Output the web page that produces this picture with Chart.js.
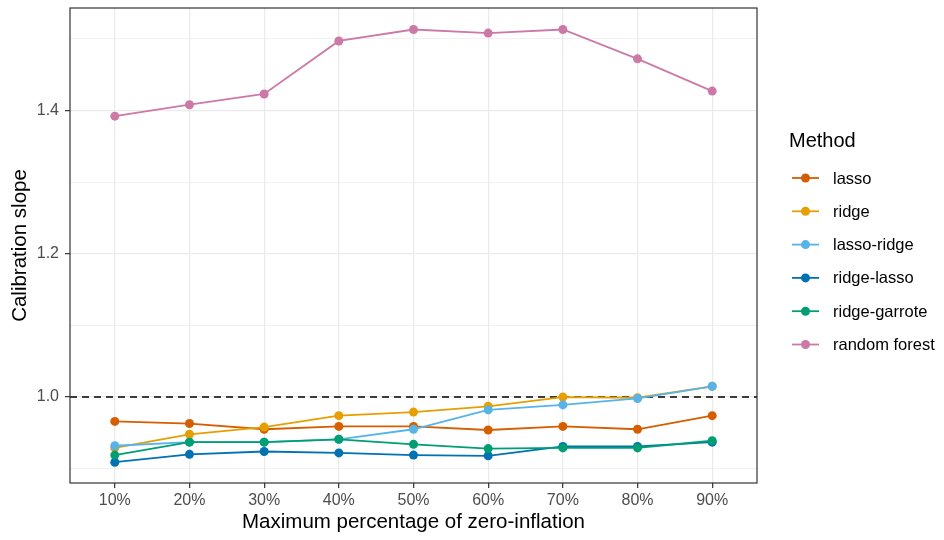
<!DOCTYPE html>
<html lang="en">
<head>
  <meta charset="UTF-8" />
  <title>Calibration slope</title>
  <script src="https://cdn.jsdelivr.net/npm/chart.js"></script>
  <style>
    html, body { margin: 0; padding: 0; background: #fff; }
    #wrap { width: 944px; height: 540px; }
  </style>
</head>
<body>
<div id="wrap"><canvas id="chart" width="944" height="540"></canvas></div>
<script>
  // data
  const categories = ['10%', '20%', '30%', '40%', '50%', '60%', '70%', '80%', '90%'];
  const methods = ['lasso', 'ridge', 'lasso-ridge', 'ridge-lasso', 'ridge-garrote', 'random forest'];
  const lasso = [0.966, 0.963, 0.955, 0.959, 0.959, 0.954, 0.959, 0.955, 0.974];
  const ridge = [0.929, 0.948, 0.958, 0.974, 0.979, 0.987, 1.000, 0.999, 1.015];
  const lassoRidge = [0.932, 0.937, 0.937, 0.941, 0.955, 0.982, 0.989, 0.998, 1.015];
  const ridgeLasso = [0.909, 0.920, 0.924, 0.922, 0.919, 0.918, 0.931, 0.931, 0.937];
  const ridgeGarrote = [0.919, 0.937, 0.937, 0.941, 0.934, 0.928, 0.929, 0.929, 0.939];
  const randomForest = [1.392, 1.408, 1.423, 1.497, 1.513, 1.508, 1.513, 1.472, 1.427];
  const yTicks = [0.9, 1.0, 1.1, 1.2, 1.3, 1.4, 1.5];
  const yLabelled = [1.0, 1.2, 1.4];
  const refLine = 1.0;

  const series = [lasso, ridge, lassoRidge, ridgeLasso, ridgeGarrote, randomForest];
  const colors = ['#D55E00', '#E69F00', '#56B4E9', '#0072B2', '#009E73', '#CC79A7'];

  const FONT = "'Liberation Sans', Arial, sans-serif";
  const isMajor = v => yLabelled.some(t => Math.abs(t - v) < 1e-6);

  const datasets = series.map((vals, i) => ({
    label: methods[i],
    data: vals.map((v, j) => ({ x: j + 1, y: v })),
    borderColor: colors[i],
    backgroundColor: colors[i],
    borderWidth: 1.8,
    pointRadius: 4.5,
    pointHoverRadius: 4.5,
    pointBorderWidth: 0,
    tension: 0,
    order: methods.length - i
  }));

  // dashed line at 1.0, panel border and legend
  const panelPlugin = {
    id: 'panel',
    beforeDatasetsDraw(chart) {
      const { ctx, chartArea: a, scales } = chart;
      const y = scales.y.getPixelForValue(refLine);
      ctx.save();
      ctx.strokeStyle = '#000';
      ctx.lineWidth = 1.6;
      ctx.setLineDash([7, 5]);
      ctx.beginPath();
      ctx.moveTo(a.left, y);
      ctx.lineTo(a.right, y);
      ctx.stroke();
      ctx.restore();
    },
    afterDraw(chart) {
      const { ctx, chartArea: a } = chart;
      ctx.save();
      ctx.strokeStyle = '#333333';
      ctx.lineWidth = 1.2;
      ctx.strokeRect(a.left, a.top, a.right - a.left, a.bottom - a.top);

      ctx.fillStyle = '#000';
      ctx.font = '20px ' + FONT;
      ctx.textBaseline = 'middle';
      ctx.textAlign = 'left';
      ctx.fillText('Method', 789, 141);
      chart.data.datasets.forEach((ds, i) => {
        const yy = 178 + i * 33.3;
        ctx.strokeStyle = ds.borderColor;
        ctx.lineWidth = 1.8;
        ctx.beginPath();
        ctx.moveTo(792, yy);
        ctx.lineTo(819, yy);
        ctx.stroke();
        ctx.fillStyle = ds.borderColor;
        ctx.beginPath();
        ctx.arc(805.5, yy, 4.5, 0, Math.PI * 2);
        ctx.fill();
        ctx.fillStyle = '#000';
        ctx.font = '16.5px ' + FONT;
        ctx.fillText(ds.label, 833, yy + 1);
      });
      ctx.restore();
    }
  };

  new Chart(document.getElementById('chart'), {
    type: 'line',
    data: { datasets },
    plugins: [panelPlugin],
    options: {
      responsive: false,
      animation: false,
      layout: { padding: { top: 8, right: 187, bottom: 0, left: 0 } },
      plugins: { legend: { display: false }, tooltip: { enabled: false } },
      scales: {
        x: {
          type: 'linear',
          min: 0.4,
          max: 9.6,
          afterBuildTicks: s => { s.ticks = categories.map((c, j) => ({ value: j + 1 })); },
          afterFit: s => { s.height = 57; s.paddingLeft = 0; s.paddingRight = 0; },
          ticks: {
            callback: (v) => categories[Math.round(v) - 1],
            color: '#4D4D4D',
            font: { family: FONT, size: 16 },
            padding: 3,
            maxRotation: 0
          },
          grid: { color: '#EBEBEB', lineWidth: 1.3, tickColor: '#333333', tickLength: 5, tickWidth: 1.2 },
          border: { display: false },
          title: {
            display: true,
            text: 'Maximum percentage of zero-inflation',
            color: '#000',
            font: { family: FONT, size: 20.5 },
            padding: { top: 0, bottom: 5 }
          }
        },
        y: {
          min: 0.88,
          max: 1.543,
          afterBuildTicks: s => { s.ticks = yTicks.map(v => ({ value: v })); },
          afterFit: s => { s.width = 70; s.paddingTop = 0; s.paddingBottom = 0; },
          ticks: {
            callback: v => isMajor(v) ? v.toFixed(1) : '',
            color: '#4D4D4D',
            font: { family: FONT, size: 16 },
            padding: 6
          },
          grid: {
            color: '#EBEBEB',
            lineWidth: ctx => isMajor(ctx.tick.value) ? 1.3 : 0.7,
            tickColor: ctx => isMajor(ctx.tick.value) ? '#333333' : 'rgba(0,0,0,0)',
            tickLength: 5,
            tickWidth: 1.2
          },
          border: { display: false },
          title: {
            display: true,
            text: 'Calibration slope',
            color: '#000',
            font: { family: FONT, size: 20.5 },
            padding: { top: 8, bottom: 0 }
          }
        }
      }
    }
  });
</script>
</body>
</html>
